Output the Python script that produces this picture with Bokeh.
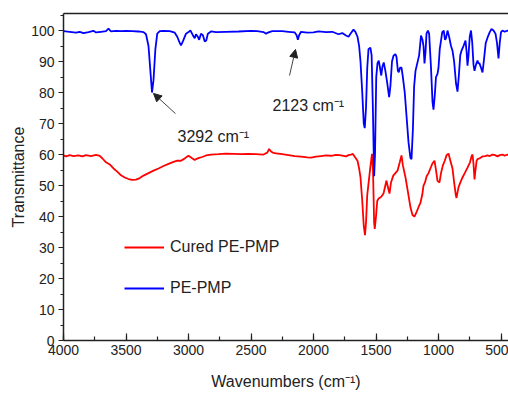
from bokeh.plotting import figure
from bokeh.models import (Range1d, LinearAxis, FixedTicker, Legend, LegendItem,
                          Label, Arrow, NormalHead, SingleIntervalTicker)
from bokeh.embed import file_html
from bokeh.resources import INLINE

# ---- data ----
pe_wn = [4000, 3950, 3900, 3870, 3840, 3800, 3760, 3740, 3700, 3660, 3640, 3620, 3580, 3540,
         3500, 3450, 3400, 3360, 3340, 3320, 3305, 3292, 3280, 3265, 3250, 3230, 3200, 3150,
         3110, 3090, 3070, 3060, 3045, 3020, 3000, 2985, 2965, 2950, 2940, 2925, 2915, 2900,
         2885, 2870, 2858, 2845, 2820, 2780, 2700, 2600, 2500, 2450, 2400, 2380, 2360, 2330,
         2250, 2200, 2150, 2135, 2125, 2115, 2100, 2050, 2000, 1960, 1900, 1850, 1800, 1770,
         1740, 1720, 1700, 1680, 1665, 1648, 1635, 1624, 1610, 1598, 1590, 1580, 1570, 1560,
         1545, 1535, 1525, 1515, 1508, 1498, 1488, 1478, 1468, 1458, 1448, 1438, 1425, 1410,
         1395, 1385, 1372, 1360, 1345, 1336, 1325, 1318, 1308, 1296, 1285, 1270, 1255, 1240,
         1225, 1216, 1205, 1195, 1184, 1170, 1155, 1140, 1128, 1120, 1112, 1104, 1096, 1085,
         1075, 1060, 1048, 1040, 1030, 1020, 1008, 1000, 990, 970, 958, 948, 940, 928, 915,
         900, 888, 875, 860, 848, 838, 826, 816, 800, 784, 775, 768, 760, 750, 740, 730, 720,
         712, 700, 688, 680, 672, 660, 648, 638, 622, 608, 590, 576, 560, 544, 532, 520, 510,
         500, 488, 470, 448, 440]
pe_t = [99.8, 99.6, 99.3, 99.6, 99.2, 99.5, 99.9, 99.4, 99.6, 99.8, 100.6, 99.7, 99.9, 99.8,
        99.9, 99.8, 99.7, 99.5, 98.8, 95, 87, 80, 84, 94, 99, 99.8, 99.9, 99.8,
        99.3, 98, 96, 95.2, 96.5, 99, 99.5, 100, 98.5, 97.5, 98.8, 98, 97, 99,
        98.5, 96.5, 96.8, 99, 99.7, 99.5, 99.6, 99.7, 99.9, 99.8, 99.5, 99.0, 99.4, 99.8,
        99.8, 99.6, 99.4, 98.5, 97, 98.5, 99.6, 99.3, 99.4, 99.7, 99.5, 99.6, 98.8, 99.2,
        98.4, 98.0, 99.2, 100.3, 99.6, 98.0, 95, 90, 80, 70, 68.5, 75, 88, 94,
        94.5, 92, 75, 53, 60, 85, 89.5, 90.3, 88, 85.5, 88.5, 89.7, 87, 83,
        78.5, 82, 90, 91.9, 92.4, 91.5, 87, 86.5, 88, 88, 85, 80, 72, 64,
        59, 58.5, 68, 82, 87, 89.4, 92, 98.4, 97, 95, 89.4, 93, 99, 100,
        99, 88, 77, 74.5, 79, 85, 86, 88, 94, 99.5, 100, 97, 97.5, 100, 98,
        95, 93.5, 90, 83, 80.3, 85, 92, 93.5, 95, 96.8, 93, 88.7, 92, 98, 100, 96, 89,
        87, 89, 90.3, 89.4, 89.4, 88, 86.5, 90, 96, 97.7, 99.5, 100.5, 100, 99, 96, 91, 96,
        99.5, 100, 99.6, 100, 99.8]

cured_wn = [4000, 3980, 3950, 3920, 3880, 3850, 3820, 3780, 3740, 3710, 3690, 3660, 3630, 3600,
            3570, 3540, 3510, 3480, 3450, 3420, 3390, 3360, 3320, 3280, 3240, 3200, 3160, 3120,
            3090, 3060, 3035, 3015, 3000, 2985, 2965, 2950, 2935, 2915, 2890, 2860, 2820, 2760,
            2700, 2640, 2580, 2520, 2460, 2400, 2370, 2355, 2340, 2320, 2300, 2250, 2200, 2150,
            2100, 2050, 2020, 1980, 1940, 1900, 1860, 1820, 1790, 1760, 1740, 1720, 1700, 1685,
            1670, 1648, 1635, 1624, 1610, 1598, 1588, 1580, 1570, 1560, 1545, 1532, 1524, 1515,
            1510, 1500, 1490, 1480, 1470, 1455, 1440, 1428, 1416, 1405, 1392, 1380, 1362, 1345,
            1328, 1310, 1296, 1285, 1264, 1245, 1224, 1208, 1192, 1175, 1160, 1144, 1130, 1120,
            1108, 1095, 1080, 1065, 1050, 1032, 1020, 1008, 992, 980, 965, 950, 935, 920, 905,
            888, 875, 862, 856, 848, 840, 825, 808, 790, 768, 748, 735, 728, 720, 712, 704, 695,
            688, 670, 648, 628, 608, 590, 568, 548, 528, 510, 488, 470, 448, 440]
cured_t = [59.7, 59.4, 59.8, 59.5, 59.7, 59.4, 59.8, 59.5, 59.9, 59.6, 58.8, 57.5, 56.8, 55.5,
           54.5, 53.3, 52.6, 52.1, 51.8, 51.9, 52.4, 53.2, 54, 54.8, 55.5, 56.3, 57.0, 57.6,
           58.0, 58.0, 58.6, 59.2, 59.6, 59.2, 58.6, 58.2, 58.6, 58.9, 59.2, 59.7, 60.0, 60.1,
           60.3, 60.2, 60.1, 60.2, 60.1, 60.0, 60.6, 61.8, 61.0, 60.5, 60.4, 60.1, 59.8, 59.5,
           59.3, 59.1, 59.0, 59.3, 59.5, 59.7, 59.6, 59.9, 59.8, 59.6, 59.4, 59.8, 60.0, 60.2,
           59.3, 58, 55.5, 52.6, 45, 37, 34, 38, 47, 50.6, 56, 60.2, 55, 38,
           36, 40, 45, 45.8, 46, 46.5, 47.4, 49.5, 51.6, 49.5, 47.4, 51, 53.2, 54,
           54.8, 57.5, 59.7, 56.5, 52.6, 48, 42.9, 40.5, 40, 41.5, 43, 44.5, 47, 50,
           51, 53, 54, 55.5, 57, 58, 55, 51.5, 51, 54, 56.5, 58, 59.8, 60.3, 58,
           55.5, 51, 47, 46, 47.8, 49.4, 51, 52.6, 54, 55.8, 57.5, 59.5, 60, 57, 52, 55, 58,
           58.5, 58.8, 59.4, 59.5, 59.7, 59.5, 60, 59.8, 59.4, 59.8, 60, 59.6, 60, 59.8]

series_names = ["Cured PE-PMP", "PE-PMP"]
annot_texts = ["3292 cm\u207b\u00b9", "2123 cm\u207b\u00b9"]

FONT = "Liberation Sans"

p = figure(width=508, height=394, output_backend="svg", toolbar_location=None,
           x_range=Range1d(4000, 440), y_range=Range1d(0, 105.5),
           min_border_left=63, min_border_right=0, min_border_top=13, min_border_bottom=54,
           background_fill_color="white", border_fill_color="white")
p.outline_line_color = None
p.xgrid.visible = False
p.ygrid.visible = False

r_red = p.line(cured_wn, cured_t, line_color="#ff0000", line_width=1.8)
r_blue = p.line(pe_wn, pe_t, line_color="#0000ff", line_width=1.8)

xa = p.xaxis[0]
xa.ticker = SingleIntervalTicker(interval=500, num_minor_ticks=2)
xa.major_tick_in = 7
xa.major_tick_out = 0
xa.minor_tick_in = 4
xa.minor_tick_out = 0
xa.axis_label = "Wavenumbers (cm\u207b\u00b9)"

ya = p.yaxis[0]
ya.ticker = SingleIntervalTicker(interval=10, num_minor_ticks=2)
ya.major_tick_in = 0
ya.major_tick_out = 5
ya.minor_tick_in = 0
ya.minor_tick_out = 3
ya.axis_label = "Transmittance"

for ax in (xa, ya):
    ax.axis_line_width = 1.5
    ax.axis_line_color = "#222222"
    ax.major_tick_line_color = "#222222"
    ax.minor_tick_line_color = "#222222"
    ax.major_tick_line_width = 1.2
    ax.minor_tick_line_width = 1.2
    ax.major_label_text_font = FONT
    ax.major_label_text_font_size = "14px"
    ax.major_label_text_color = "#222222"
    ax.axis_label_text_font = FONT
    ax.axis_label_text_font_size = "16px"
    ax.axis_label_text_font_style = "normal"
    ax.axis_label_text_color = "#222222"
xa.major_label_standoff = 4
xa.axis_label_standoff = 15
ya.major_label_standoff = 4
ya.axis_label_standoff = 1

top = LinearAxis(ticker=FixedTicker(ticks=[]), axis_line_width=1.5, axis_line_color="#222222",
                 major_tick_line_color=None, minor_tick_line_color=None,
                 major_label_text_font_size="0px")
p.add_layout(top, "above")

legend = Legend(items=[LegendItem(label=series_names[0], renderers=[r_red]),
                       LegendItem(label=series_names[1], renderers=[r_blue])],
                location=(61, 42), padding=0, margin=0, spacing=21,
                glyph_width=40, glyph_height=20, label_height=20, label_standoff=6,
                label_text_font=FONT, label_text_font_size="16px", label_text_color="#222222",
                border_line_color=None, background_fill_alpha=0)
p.add_layout(legend)

p.add_layout(Label(x=3088, y=65.8, text=annot_texts[0], text_font=FONT,
                   text_font_size="16px", text_color="#222222", text_baseline="alphabetic"))
p.add_layout(Label(x=2328, y=75.8, text=annot_texts[1], text_font=FONT,
                   text_font_size="16px", text_color="#222222", text_baseline="alphabetic"))

p.add_layout(Arrow(end=NormalHead(size=8, fill_color="#222222", line_color="#222222"),
                   x_start=3104, y_start=73.2, x_end=3280, y_end=79.7,
                   line_color="#444444", line_width=1))
p.add_layout(Arrow(end=NormalHead(size=8, fill_color="#222222", line_color="#222222"),
                   x_start=2192, y_start=85.5, x_end=2144, y_end=93.9,
                   line_color="#444444", line_width=1))

open("out.html", "w").write(file_html(p, INLINE))
